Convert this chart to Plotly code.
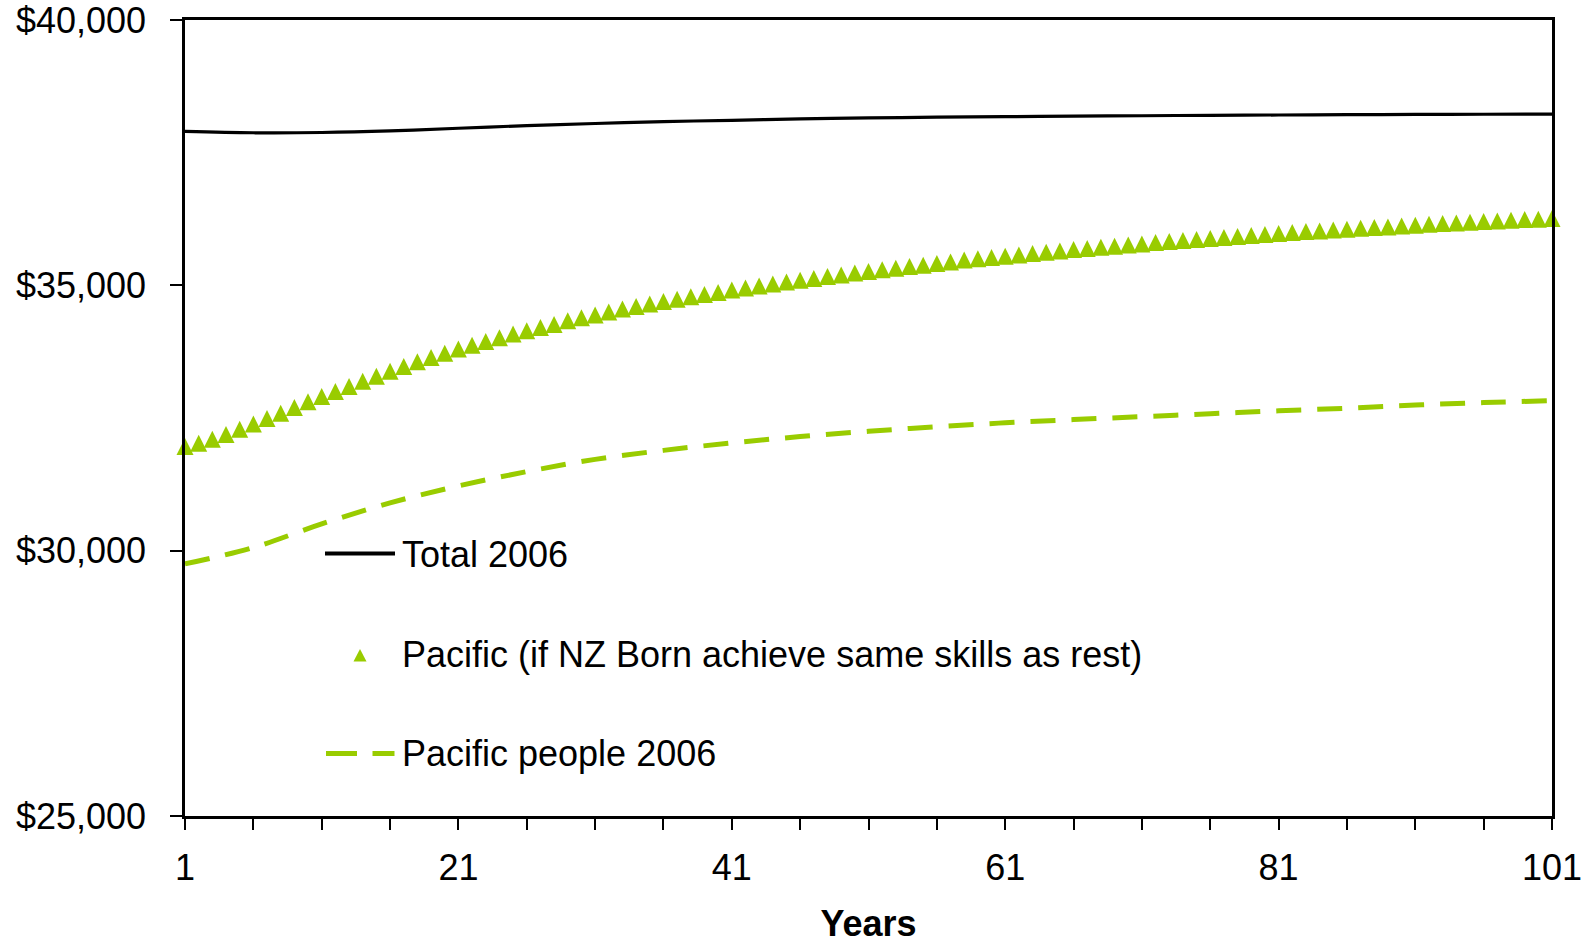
import plotly.graph_objects as go

# Projection horizon (years) and average income series
years = list(range(1, 102))
years_5 = list(range(1, 102, 5))

total_2006 = [37900, 37875, 37880, 37910, 37960, 38010, 38050, 38085, 38110, 38135, 38155,
              38168, 38178, 38188, 38196, 38204, 38210, 38215, 38220, 38224, 38228]

pacific_2006 = [29750, 30060, 30505, 30900, 31220, 31490, 31720, 31890, 32030, 32150, 32250,
                32335, 32410, 32470, 32525, 32580, 32635, 32685, 32745, 32790, 32828]

pacific_same_skills = [
    31961, 32025, 32100, 32187, 32289, 32389, 32489, 32591, 32696, 32804,
    32904, 32998, 33092, 33194, 33289, 33383, 33470, 33558, 33639, 33722,
    33798, 33873, 33941, 34011, 34081, 34143, 34205, 34262, 34332, 34388,
    34439, 34496, 34552, 34602, 34646, 34696, 34740, 34784, 34828, 34866,
    34910, 34948, 34986, 35024, 35062, 35096, 35130, 35165, 35196, 35231,
    35262, 35294, 35322, 35354, 35379, 35411, 35441, 35477, 35501, 35524,
    35548, 35573, 35599, 35624, 35648, 35675, 35694, 35718, 35737, 35762,
    35780, 35807, 35826, 35844, 35863, 35882, 35901, 35920, 35939, 35958,
    35976, 35995, 36014, 36026, 36045, 36058, 36077, 36090, 36101, 36120,
    36133, 36152, 36165, 36176, 36190, 36203, 36214, 36227, 36241, 36246,
    36260,
]

x_ticks = [1, 21, 41, 61, 81, 101]
legend_labels = ["Total 2006",
                 "Pacific (if NZ Born achieve same skills as rest)",
                 "Pacific people 2006"]

LIME = "#99CC00"
FONT = "Liberation Sans, Arial, sans-serif"
FS = 36

W, H = 1591, 944
L, R, T, B = 185, 1552, 20, 816

MARKER_SIZE = 17


def px(x):
    return (x - L) / (R - L)


def py(y):
    return (B - y) / (B - T)


fig = go.Figure()

fig.add_trace(go.Scatter(
    x=years_5, y=total_2006, mode="lines", name=legend_labels[0],
    line=dict(color="black", width=3.2, shape="spline"), showlegend=False,
))

# upward triangles centred on each point (arrow head flipped and pulled back)
fig.add_trace(go.Scatter(
    x=years, y=pacific_same_skills, mode="markers", name=legend_labels[1],
    marker=dict(symbol="arrow-down", angle=180, standoff=MARKER_SIZE / 2, size=MARKER_SIZE,
                color=LIME, line=dict(width=0)),
    showlegend=False, cliponaxis=False,
))

fig.add_trace(go.Scatter(
    x=years_5, y=pacific_2006, mode="lines", name=legend_labels[2],
    line=dict(color=LIME, width=5, dash="25px,16px", shape="spline"),
    showlegend=False,
))

# Hand-placed legend
shapes = [
    dict(type="line", xref="paper", yref="paper",
         x0=px(325), x1=px(395), y0=py(553.5), y1=py(553.5),
         line=dict(color="black", width=4)),
    dict(type="path", xref="paper", yref="paper",
         path=f"M {px(353.5)},{py(661.5)} L {px(366.5)},{py(661.5)} L {px(360)},{py(649)} Z",
         fillcolor=LIME, line=dict(width=0)),
    dict(type="line", xref="paper", yref="paper",
         x0=px(326), x1=px(357), y0=py(753.5), y1=py(753.5),
         line=dict(color=LIME, width=5)),
    dict(type="line", xref="paper", yref="paper",
         x0=px(372.5), x1=px(394.5), y0=py(753.5), y1=py(753.5),
         line=dict(color=LIME, width=5)),
]

annotations = []
for label, yc in zip(legend_labels, [554, 654, 753.5]):
    annotations.append(dict(
        text=label, xref="paper", yref="paper", x=px(400), y=py(yc),
        xanchor="left", yanchor="middle", showarrow=False,
        font=dict(family=FONT, size=FS, color="black"),
    ))

fig.update_layout(
    width=W, height=H,
    margin=dict(l=L, r=W - R, t=T, b=H - B, pad=0, autoexpand=False),
    paper_bgcolor="white", plot_bgcolor="white",
    font=dict(family=FONT, size=FS, color="black"),
    showlegend=False,
    shapes=shapes,
    annotations=annotations,
    xaxis=dict(
        range=[1, 101], tickvals=x_ticks, ticktext=[str(v) for v in x_ticks],
        ticks="outside", ticklen=11, tickwidth=2, tickcolor="black",
        minor=dict(tick0=1, dtick=5, ticks="outside", ticklen=11, tickwidth=2, tickcolor="black"),
        showline=True, linecolor="black", linewidth=2.5, mirror=True,
        showgrid=False, zeroline=False, automargin=False,
        ticklabelstandoff=7, ticklabeloverflow="allow",
        tickfont=dict(family=FONT, size=FS, color="black"),
        title=dict(text="<b>Years</b>", standoff=34,
                   font=dict(family=FONT, size=FS, color="black")),
    ),
    yaxis=dict(
        range=[25000, 40000], dtick=5000, tick0=25000,
        tickprefix="$", tickformat=",.0f",
        ticks="outside", ticklen=12, tickwidth=2, tickcolor="black",
        showline=True, linecolor="black", linewidth=2.5, mirror=True,
        showgrid=False, zeroline=False, automargin=False,
        ticklabelstandoff=17, ticklabeloverflow="allow",
        tickfont=dict(family=FONT, size=FS, color="black"),
    ),
)

fig.write_html("out.html")
